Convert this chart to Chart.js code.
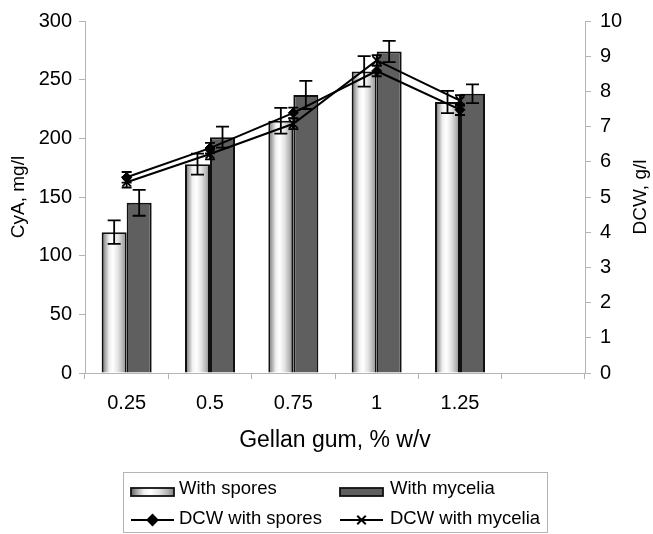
<!DOCTYPE html>
<html><head><meta charset="utf-8">
<script src="https://cdn.jsdelivr.net/npm/chart.js@4/dist/chart.umd.min.js"></script>
<style>html,body{margin:0;padding:0;background:#fff;}#wrap{width:653px;height:534px;}</style>
</head><body><div id="wrap"><canvas id="c" width="653" height="534"></canvas></div>
<script>
// ---- data ----
const categories = ['0.25', '0.5', '0.75', '1', '1.25', ''];
const cyaSpores = [120, 178, 215, 257, 231];
const cyaSporesErr = [10, 9, 11, 13, 9.5];
const cyaMycelia = [145, 201, 237, 274, 238];
const cyaMyceliaErr = [11, 9, 12, 9, 8];
const dcwSpores = [5.56, 6.39, 7.39, 8.58, 7.48];
const dcwSporesErr = [0.15, 0.15, 0.15, 0.15, 0.15];
const dcwMycelia = [5.42, 6.22, 7.08, 8.88, 7.74];
const dcwMyceliaErr = [0.15, 0.15, 0.15, 0.15, 0.15];
const leftAxisMax = 300, leftAxisStep = 50;
const rightAxisMax = 10, rightAxisStep = 1;
const seriesLabels = ['With spores', 'With mycelia', 'DCW with spores', 'DCW with mycelia'];
const axisTitles = { x: 'Gellan gum, % w/v', left: 'CyA, mg/l', right: 'DCW, g/l' };

// ---- style ----
const FONT = "'Liberation Sans', Arial, Helvetica, sans-serif";
const AXIS = '#b4b4b4';
const CAT_PCT = 0.6;
Chart.defaults.font.family = FONT;
Chart.defaults.color = '#000';

function sporeGradient(ctx, x0, x1) {
  const g = ctx.createLinearGradient(x0, 0, x1, 0);
  g.addColorStop(0, '#5e5e5e');
  g.addColorStop(0.12, '#a0a0a0');
  g.addColorStop(0.3, '#f0f0f0');
  g.addColorStop(0.45, '#ffffff');
  g.addColorStop(0.65, '#e4e4e4');
  g.addColorStop(0.85, '#b4b4b4');
  g.addColorStop(1, '#808080');
  return g;
}

function sporeBarColor(c) {
  const chart = c.chart;
  const xs = chart.scales && chart.scales.x;
  if (!xs || !isFinite(xs.width) || c.dataIndex === undefined) return '#dddddd';
  const center = xs.getPixelForValue(c.dataIndex);
  const catW = xs.width / categories.length;
  const bw = catW * CAT_PCT / 2;
  return sporeGradient(chart.ctx, center - bw, center);
}

const extras = {
  id: 'extras',
  afterDatasetDraw(chart, args) {
    const ds = chart.data.datasets[args.index];
    const errs = ds.errors;
    if (!errs) return;
    const meta = args.meta;
    const ys = chart.scales[meta.yAxisID];
    const ctx = chart.ctx;
    const cap = ds.type === 'line' ? 5 : 6.5;
    ctx.save();
    ctx.strokeStyle = '#000';
    ctx.lineWidth = 1.8;
    meta.data.forEach((el, j) => {
      const v = ds.data[j];
      if (v == null || errs[j] == null) return;
      const x = el.x;
      const yt = ys.getPixelForValue(v + errs[j]);
      const yb = ys.getPixelForValue(v - errs[j]);
      ctx.beginPath();
      ctx.moveTo(x, yt); ctx.lineTo(x, yb);
      ctx.moveTo(x - cap, yt); ctx.lineTo(x + cap, yt);
      ctx.moveTo(x - cap, yb); ctx.lineTo(x + cap, yb);
      ctx.stroke();
    });
    ctx.restore();
  },
  afterDraw(chart) {
    const ctx = chart.ctx;
    const area = chart.chartArea;
    ctx.save();
    // right axis title, reading bottom to top
    ctx.font = '19px ' + FONT;
    ctx.fillStyle = '#000';
    ctx.textAlign = 'center';
    ctx.textBaseline = 'middle';
    ctx.translate(641, (area.top + area.bottom) / 2);
    ctx.rotate(-Math.PI / 2);
    ctx.fillText(axisTitles.right, 0, 0);
    ctx.restore();

    // legend
    ctx.save();
    ctx.strokeStyle = AXIS;
    ctx.lineWidth = 1;
    ctx.strokeRect(123.5, 472.5, 424, 60);
    const ds = chart.data.datasets;
    const cols = [131, 340], txt = [179, 390], rows = [489, 519];
    ctx.font = '18.5px ' + FONT;
    ctx.textAlign = 'left';
    ctx.textBaseline = 'middle';
    ctx.fillStyle = '#000';
    for (let k = 0; k < 2; k++) {
      const x = cols[k], y = rows[0];
      ctx.fillStyle = k === 0 ? sporeGradient(ctx, x, x + 43) : ds[1].backgroundColor;
      ctx.fillRect(x, y - 1, 43, 8);
      ctx.strokeStyle = '#111';
      ctx.lineWidth = 1.8;
      ctx.strokeRect(x, y - 1, 43, 8);
      ctx.fillStyle = '#000';
      ctx.fillText(ds[k].label, txt[k], y);
    }
    for (let k = 0; k < 2; k++) {
      const x = cols[k], y = rows[1] + 1;
      const d = ds[2 + k];
      ctx.strokeStyle = '#000';
      ctx.lineWidth = 2;
      ctx.beginPath(); ctx.moveTo(x, y); ctx.lineTo(x + 43, y); ctx.stroke();
      ctx.fillStyle = '#000';
      Chart.helpers.drawPoint(ctx, {
        pointStyle: d.pointStyle, radius: d.pointRadius, rotation: 0,
        borderWidth: d.pointBorderWidth
      }, x + 21.5, y);
      ctx.fillStyle = '#000';
      ctx.fillText(d.label, txt[k], rows[1]);
    }
    ctx.restore();
  }
};

new Chart(document.getElementById('c'), {
  type: 'bar',
  data: {
    labels: categories,
    datasets: [
      { type: 'bar', label: seriesLabels[0], data: cyaSpores, errors: cyaSporesErr, yAxisID: 'y', order: 1,
        backgroundColor: sporeBarColor, borderColor: '#111', borderWidth: 2,
        categoryPercentage: CAT_PCT, barPercentage: 1 },
      { type: 'bar', label: seriesLabels[1], data: cyaMycelia, errors: cyaMyceliaErr, yAxisID: 'y', order: 1,
        backgroundColor: '#5f5f5f', borderColor: '#111', borderWidth: 2,
        categoryPercentage: CAT_PCT, barPercentage: 1 },
      { type: 'line', label: seriesLabels[2], data: dcwSpores, errors: dcwSporesErr, yAxisID: 'y1', order: 0,
        borderColor: '#000', borderWidth: 2, tension: 0, fill: false,
        pointStyle: 'rectRot', pointRadius: 5, pointBackgroundColor: '#000', pointBorderColor: '#000', pointBorderWidth: 1 },
      { type: 'line', label: seriesLabels[3], data: dcwMycelia, errors: dcwMyceliaErr, yAxisID: 'y1', order: 0,
        borderColor: '#000', borderWidth: 2, tension: 0, fill: false,
        pointStyle: 'crossRot', pointRadius: 6, pointBackgroundColor: '#000', pointBorderColor: '#000', pointBorderWidth: 1.8 }
    ]
  },
  options: {
    responsive: false,
    devicePixelRatio: 1,
    animation: false,
    layout: { padding: { top: 17, bottom: 79, left: 0, right: 0 } },
    plugins: { legend: { display: false }, tooltip: { enabled: false } },
    scales: {
      x: {
        offset: true,
        grid: { display: true, drawOnChartArea: false, drawTicks: true, tickLength: 6, color: AXIS, offset: true },
        border: { display: true, color: AXIS },
        ticks: { font: { size: 20 }, color: '#000', padding: 12, maxRotation: 0, autoSkip: false },
        title: { display: true, text: axisTitles.x, font: { size: 23 }, color: '#000', padding: { top: 0, bottom: 1 } },
        afterFit: s => { s.height = 82; }
      },
      y: {
        position: 'left', min: 0, max: leftAxisMax,
        grid: { display: true, drawOnChartArea: false, drawTicks: true, tickLength: 6, color: AXIS },
        border: { display: true, color: AXIS },
        ticks: { stepSize: leftAxisStep, font: { size: 20 }, color: '#000', padding: 7 },
        title: { display: true, text: axisTitles.left, font: { size: 19 }, color: '#000', padding: { top: 7, bottom: 0 } },
        afterFit: s => { s.width = 85; }
      },
      y1: {
        position: 'right', min: 0, max: rightAxisMax,
        grid: { display: true, drawOnChartArea: false, drawTicks: true, tickLength: 6, color: AXIS },
        border: { display: true, color: AXIS },
        ticks: { stepSize: rightAxisStep, font: { size: 20 }, color: '#000', padding: 9 },
        title: { display: false },
        afterFit: s => { s.width = 68; }
      }
    }
  },
  plugins: [extras]
});
</script>
</body></html>
